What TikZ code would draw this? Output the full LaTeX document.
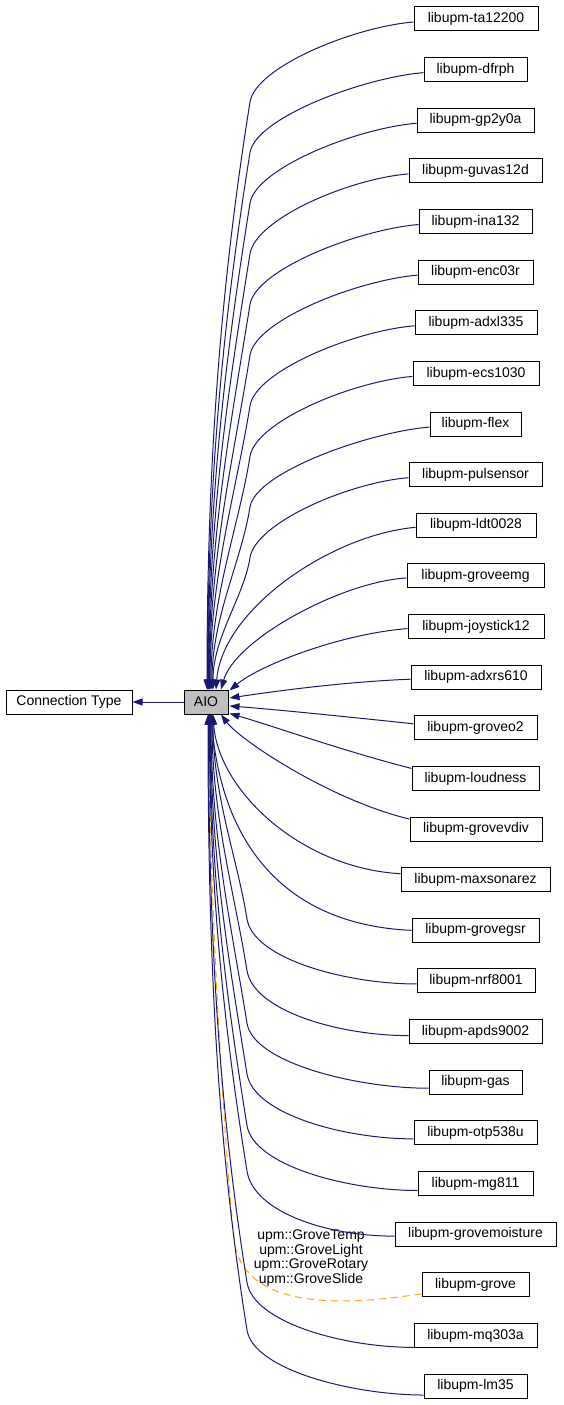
\documentclass[tikz,border=0pt]{standalone}
\usepackage{fontspec}
\setmainfont{Liberation Sans}
\usetikzlibrary{arrows.meta,calc}
\definecolor{edgeblue}{HTML}{191970}
\definecolor{aiogray}{HTML}{BFBFBF}
\definecolor{tmplorange}{HTML}{FFA500}
\begin{document}
\begin{tikzpicture}[x=1pt,y=-1pt,
  font=\fontsize{14}{14}\selectfont,
  box/.style={draw=black, line width=1pt, fill=white, minimum height=24pt, inner sep=0pt, anchor=center},
  edge/.style={draw=edgeblue, line width=1pt, -{Triangle[length=10pt,width=7pt]}},
  tmpl/.style={draw=tmplorange, line width=1pt, dash pattern=on 7pt off 5pt, -{Triangle[length=10pt,width=7pt]}}]
\useasboundingbox (0,0) rectangle (563,1405);

\node[box, minimum width=126pt] (ct) at (69,702) {Connection Type};
\node[box, fill=aiogray, minimum width=44pt] (aio) at (206,702) {AIO};

\foreach \i/\lab/\xl/\xr in {1/ta12200/414/538, 2/dfrph/424/527, 3/gp2y0a/417/534,
  4/guvas12d/409/542, 5/ina132/419/532, 6/enc03r/418/533, 7/adxl335/415/537,
  8/ecs1030/413/539, 9/flex/430/521, 10/pulsensor/409/542, 11/ldt0028/416/536,
  12/groveemg/407/544, 13/joystick12/408/544, 14/adxrs610/411/541, 15/groveo2/414/537,
  16/loudness/412/539, 17/grovevdiv/410/542, 18/maxsonarez/401/550, 19/grovegsr/412/539,
  20/nrf8001/417/535, 21/apds9002/409/542, 22/gas/429/522, 23/otp538u/414/537,
  24/mg811/418/533, 25/grovemoisture/395/556, 26/grove/422/529, 27/mq303a/414/537,
  28/lm35/424/527} {
  \pgfmathsetmacro{\yc}{19+50.63*(\i-1)}
  \pgfmathsetmacro{\xm}{(\xl+\xr)/2}
  \pgfmathsetmacro{\w}{\xr-\xl}
  \node[box, minimum width=\w pt] (n\i) at (\xm,\yc) {libupm-\lab};
}

% template (dashed) edge first, so blue arrows lie over it
\draw[tmpl] ($(n26.west)+(0,9)$) .. controls (320,1310) and (250,1300) .. (236,1250)
  .. controls (230.4,1230) and (209,928) .. ($(aio.south)+(3,0)$);
\node[align=center, font=\fontsize{14}{14.5}\selectfont] (lbl) at (311,1258)
  {upm::GroveTemp\\upm::GroveLight\\upm::GroveRotary\\upm::GroveSlide};

% upper edges
\foreach \i/\ee in {1/207,2/207.5,3/208,4/208.5,5/209,6/209.5,7/210,8/211,9/212,10/213} {
  \pgfmathsetmacro{\yc}{19+50.63*(\i-1)}
  \pgfmathsetmacro{\yb}{\yc+83}
  \pgfmathsetmacro{\len}{690-\yb}
  \pgfmathsetmacro{\qx}{250-0.16*0.3*\len}
  \pgfmathsetmacro{\qy}{\yb+0.3*\len}
  \pgfmathsetmacro{\ry}{690-0.4*\len}
  \pgfmathsetmacro{\sx}{\ee-206}
  \draw[edge] ($(n\i.west)+(0,3)$) .. controls ($(n\i.west)+(-60,8)$) and (255.6,\yc+48) .. (250,\yb)
    .. controls (\qx,\qy) and (\ee,\ry) .. ($(aio.north)+(\sx,0)$);
}

% lower edges
\foreach \i/\ee/\off in {20/213/3, 21/212/4, 22/211/6, 23/210.5/6, 24/210/7, 25/209.5/2, 27/208.5/12, 28/208/9} {
  \pgfmathsetmacro{\yc}{19+50.63*(\i-1)}
  \pgfmathsetmacro{\ys}{\yc+\off}
  \pgfmathsetmacro{\yb}{\ys-65}
  \pgfmathsetmacro{\len}{\yb-714}
  \pgfmathsetmacro{\qx}{247-0.16*0.3*\len}
  \pgfmathsetmacro{\qy}{\yb-0.3*\len}
  \pgfmathsetmacro{\ry}{714+0.4*\len}
  \pgfmathsetmacro{\sx}{\ee-206}
  \draw[edge] ($(n\i.west)+(0,\off)$) .. controls ($(n\i.west)+(-70,\off)$) and (253.4,\ys-25) .. (247,\yb)
    .. controls (\qx,\qy) and (\ee,\ry) .. ($(aio.south)+(\sx,0)$);
}

% middle edges
\draw[edge] ($(n11.west)+(0,2)$) .. controls (330,535) and (222,610) .. ($(aio.north)+(10,0)$);
\draw[edge] ($(n12.west)+(0,2)$) .. controls (340,582) and (235,640) .. ($(aio.north)+(15,0)$);
\draw[edge] ($(n13.west)+(0,2)$) .. controls (340,634) and (260,665) .. ($(aio.north east)+(1,1)$);
\draw[edge] ($(n14.west)+(0,2)$) .. controls (340,682) and (270,692) .. ($(aio.east)+(1,-4)$);
\draw[edge] ($(n15.west)+(0,-4)$) .. controls (340,716) and (270,709) .. ($(aio.east)+(1,4)$);
\draw[edge] ($(n16.west)+(0,-10)$) .. controls (340,750) and (270,725) .. ($(aio.south east)+(1,-1)$);
\draw[edge] ($(n17.west)+(0,-10)$) .. controls (330,800) and (240,740) .. ($(aio.south)+(15,0)$);
\draw[edge] ($(n18.west)+(0,-6)$) .. controls (300,868) and (218,790) .. ($(aio.south)+(7,0)$);
\draw[edge] (n19.west) .. controls (290,925) and (222,850) .. ($(aio.south)+(5,0)$);

\draw[edge] (aio.west) -- (ct.east);
\end{tikzpicture}
\end{document}
